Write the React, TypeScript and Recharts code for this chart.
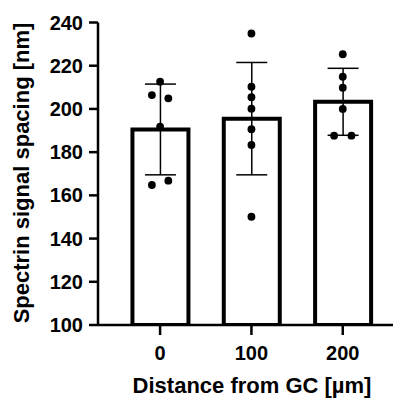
import React from 'react';
import { ComposedChart, Bar, Scatter, XAxis, YAxis, ErrorBar, Label } from 'recharts';

const categories = ['0', '100', '200'];
const barMeans = [190.5, 195.5, 203.3];
const barSD = [21, 26, 15.5];

const dots0 = [212.6, 206.4, 204.9, 191.8, 164.8, 166.8];
const dots0Jitter = [0, -0.09, 0.09, 0, -0.09, 0.09];
const dots100 = [234.9, 210.3, 205.4, 200.1, 190.6, 183.3, 150.1];
const dots100Jitter = [0, 0, 0, 0, 0, 0, 0];
const dots200 = [225.3, 214.9, 209.8, 200.0, 187.6, 187.6];
const dots200Jitter = [0, 0, 0, 0, -0.095, 0.095];

const yTicks = [100, 120, 140, 160, 180, 200, 220, 240];

const barData = categories.map((c, i) => ({ x: i, mean: barMeans[i], sd: barSD[i] }));
const groups = [
  { vals: dots0, jit: dots0Jitter },
  { vals: dots100, jit: dots100Jitter },
  { vals: dots200, jit: dots200Jitter },
];
const dotData = groups.flatMap((g, i) => g.vals.map((v, j) => ({ x: i + g.jit[j], y: v })));

const FONT = '"Liberation Sans", Arial, sans-serif';
const X_DOMAIN: [number, number] = [-0.68, 2.55];

export default function App() {
  return (
    <div style={{ position: 'absolute', left: 0, top: 0, width: 393, height: 398, overflow: 'hidden', background: '#fff' }}>
      <ComposedChart width={393} height={398} data={barData} margin={{ top: 22.5, right: 0, left: 0, bottom: 0 }}>
        <XAxis
          xAxisId="bars"
          dataKey="x"
          type="number"
          domain={X_DOMAIN}
          allowDataOverflow
          ticks={[0, 1, 2]}
          tickFormatter={(v: number) => categories[v] ?? ''}
          height={73}
          tickSize={10}
          tickMargin={11}
          axisLine={{ stroke: '#000', strokeWidth: 2.5 }}
          tickLine={{ stroke: '#000', strokeWidth: 2.5 }}
          tick={{ fill: '#000', fontSize: 20, fontWeight: 'bold', fontFamily: FONT }}
        >
          <Label
            content={() => (
              <text x={252} y={393} textAnchor="middle" fill="#000" fontSize={22} fontWeight="bold" fontFamily={FONT}>
                Distance from GC [µm]
              </text>
            )}
          />
        </XAxis>
        <XAxis xAxisId="dots" dataKey="x" type="number" domain={X_DOMAIN} allowDataOverflow hide />
        <YAxis
          type="number"
          domain={[100, 240]}
          ticks={yTicks}
          interval={0}
          allowDataOverflow
          width={98}
          tickSize={9}
          tickMargin={6}
          axisLine={{ stroke: '#000', strokeWidth: 2.5 }}
          tickLine={{ stroke: '#000', strokeWidth: 2.5 }}
          tick={{ fill: '#000', fontSize: 20, fontWeight: 'bold', fontFamily: FONT }}
        >
          <Label
            content={() => (
              <text transform="rotate(-90)" x={-173} y={29} textAnchor="middle" fill="#000" fontSize={22} fontWeight="bold" fontFamily={FONT}>
                Spectrin signal spacing [nm]
              </text>
            )}
          />
        </YAxis>
        <Bar xAxisId="bars" dataKey="mean" barSize={56} fill="#fff" stroke="#000" strokeWidth={4} isAnimationActive={false}>
          <ErrorBar dataKey="sd" width={15.5} stroke="#000" strokeWidth={1.5} direction="y" />
        </Bar>
        <Scatter
          xAxisId="dots"
          data={dotData}
          dataKey="y"
          isAnimationActive={false}
          shape={(p: any) => <circle cx={p.cx} cy={p.cy} r={3.9} fill="#000" />}
        />
      </ComposedChart>
    </div>
  );
}
